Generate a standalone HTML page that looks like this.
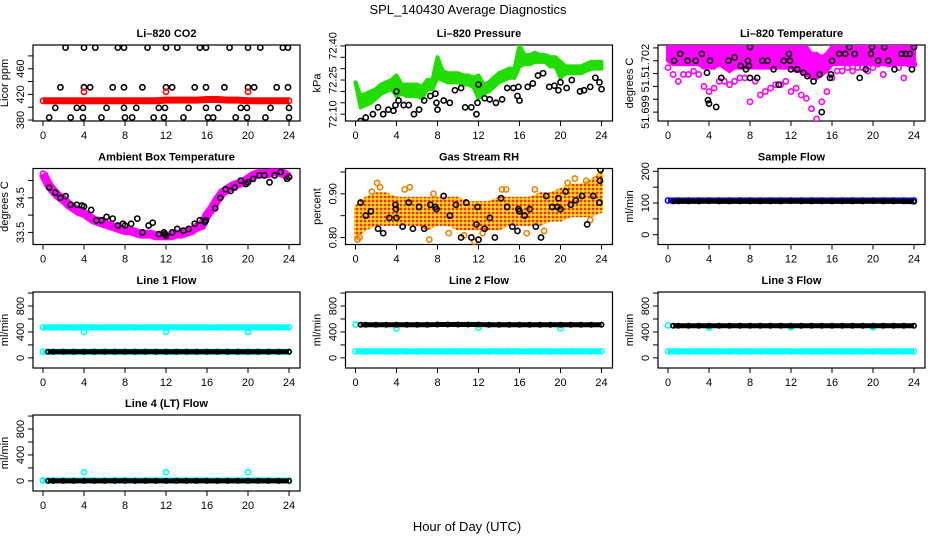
<!DOCTYPE html>
<html><head><meta charset="utf-8"><style>
html,body{margin:0;padding:0;background:#fff;}
svg{display:block;font-family:"Liberation Sans",sans-serif;}
</style></head><body>
<svg id="c" width="936" height="540" viewBox="0 0 936 540">
<defs>
<pattern id="rhpat" patternUnits="userSpaceOnUse" width="4" height="4">
<rect width="4" height="4" fill="#ffb000"/><rect x="0" y="0" width="2" height="2" fill="#e83000"/><rect x="2" y="2" width="2" height="2" fill="#ffd84a"/>
</pattern>
</defs>
<text x="468" y="14" text-anchor="middle" font-size="13">SPL_140430  Average Diagnostics</text>
<text x="467" y="531" text-anchor="middle" font-size="13">Hour of Day (UTC)</text>
</svg>
<script>
// ---- shared hour categories ----
const H=[0,1,2,3,4,5,6,7,8,9,10,11,12,13,14,15,16,17,18,19,20,21,22,23,24];
const HB=[0.5,1,2,3,4,5,6,7,8,9,10,11,12,13,14,15,16,17,18,19,20,21,22,23,24];
const HH=[0,0.5,1,1.5,2,2.5,3,3.5,4,4.5,5,5.5,6,6.5,7,7.5,8,8.5,9,9.5,10,10.5,11,11.5,12,12.5,13,13.5,14,14.5,15,15.5,16,16.5,17,17.5,18,18.5,19,19.5,20,20.5,21,21.5,22,22.5,23,23.5,24];
const xTicks=[0,4,8,12,16,20,24];

// ---- CO2 ----
const co2Red=[410,410,410,410,410,410,410,410,410,410,410,410,411,411,411,411,412,412,411,411,410,410,410,410,410];
const co2RedOutX=[4,12,20];
const co2RedOutY=[424,424,424];
const co2BlkX=[2.2,4.0,5.1,7.3,7.9,10.2,12.0,13.1,15.3,15.9,18.2,20.0,21.2,23.4,23.9,
1.7,4.0,4.6,6.8,7.9,9.7,12.0,12.6,14.8,15.9,17.7,20.0,20.6,22.8,23.9,
1.2,3.3,3.9,6.2,7.9,9.1,11.3,11.9,14.2,15.9,17.1,19.3,19.9,22.2,24.0,
0.6,2.7,3.9,5.7,8.0,8.7,10.8,11.8,13.7,16.1,16.6,18.8,19.9,21.7,24.0];
const co2BlkY=[493,493,493,493,493,493,493,493,493,493,493,493,493,493,493,
431,431,431,431,431,431,431,431,431,431,431,431,431,431,431,
399,399,399,399,399,399,399,399,399,399,399,399,399,399,399,
384,384,384,384,384,384,384,384,384,384,384,384,384,384,384];

// ---- Pressure ----
const presLo=[72.24,72.13,72.14,72.15,72.17,72.19,72.20,72.21,72.18,72.19,72.18,72.18,72.18,72.17,72.21,72.21,72.26,72.25,72.24,72.24,72.24,72.23,72.23,72.22,72.17,72.19,72.20,72.22,72.24,72.25,72.26,72.26,72.31,72.32,72.32,72.33,72.33,72.33,72.31,72.31,72.26,72.28,72.28,72.28,72.28,72.29,72.30,72.30,72.30];
const presHi=[72.24,72.18,72.19,72.20,72.21,72.23,72.24,72.25,72.27,72.23,72.23,72.23,72.23,72.22,72.25,72.25,72.35,72.29,72.28,72.28,72.28,72.27,72.27,72.26,72.27,72.23,72.24,72.26,72.28,72.29,72.30,72.30,72.40,72.36,72.36,72.37,72.36,72.36,72.35,72.35,72.33,72.31,72.31,72.31,72.31,72.32,72.33,72.33,72.33];
const presBlkX=[0.5,1,1.7,2.2,2.7,3.2,3.7,3.9,4,4.2,4.7,5.2,5.7,6.2,6.7,7.3,7.8,7.9,8,8.6,9.2,9.7,10.3,10.7,11.3,11.8,11.9,12,12.6,13.1,13.7,14.3,14.8,15.4,15.9,15.8,16,16.8,17.3,17.8,18.3,18.9,19.4,19.8,20,20.6,21.1,21.9,22.3,22.9,23.4,23.8,24];
const presBlkY=[72.07,72.085,72.10,72.13,72.10,72.12,72.115,72.14,72.2,72.16,72.14,72.14,72.10,72.12,72.16,72.18,72.19,72.15,72.12,72.16,72.15,72.205,72.215,72.13,72.13,72.10,72.15,72.23,72.17,72.165,72.15,72.165,72.215,72.215,72.22,72.18,72.16,72.22,72.235,72.27,72.28,72.22,72.225,72.205,72.24,72.215,72.25,72.20,72.205,72.22,72.26,72.24,72.21];

// ---- Li-820 Temperature ----
const tmpHi=[51.7028,51.7028,51.7028,51.7028,51.7028,51.7028,51.7028,51.7028,51.7028,51.7028,51.7028,51.7028,51.7028,51.7028,51.7028,51.7028,51.7028,51.7028,51.7028,51.7028,51.7028,51.7028,51.7028,51.7028,51.7028,51.7028,51.7028,51.7028,51.7024,51.7024,51.7022,51.7024,51.7028,51.7028,51.7028,51.7028,51.7028,51.7028,51.7028,51.7028,51.7028,51.7028,51.7028,51.7028,51.7028,51.7028,51.7028,51.7028,51.7028];
const tmpMid=[51.7020,51.7018,51.7018,51.7018,51.7018,51.7018,51.7018,51.7016,51.7016,51.7016,51.7018,51.7016,51.7014,51.7016,51.7016,51.7016,51.7016,51.7016,51.7016,51.7016,51.7016,51.7016,51.7016,51.7016,51.7016,51.7014,51.7014,51.7012,51.7010,51.7010,51.7012,51.7014,51.7018,51.7018,51.7018,51.7018,51.7018,51.7018,51.7018,51.7018,51.7018,51.7018,51.7018,51.7018,51.7018,51.7018,51.7018,51.7018,51.7018];
const tmpLo=[51.7016,51.7012,51.7008,51.7012,51.7012,51.7014,51.7012,51.7005,51.7002,51.7004,51.7008,51.7008,51.7006,51.7008,51.7010,51.7010,51.6996,51.7008,51.7000,51.7002,51.7004,51.7006,51.7006,51.7008,51.7002,51.7004,51.7000,51.6998,51.6992,51.6986,51.6996,51.7002,51.7010,51.7014,51.7014,51.7016,51.7014,51.7016,51.7016,51.7014,51.7016,51.7018,51.7012,51.7018,51.7018,51.7016,51.7010,51.7018,51.7018];
const tmpBlkX=[0.6,1.2,1.9,2.7,3.3,3.8,3.9,4,4.7,4.1,5.2,5.9,6.5,7.1,7.6,7.8,7.9,8,8,8.7,9.2,9.7,10.3,10.8,11.3,11.8,11.9,12,12.6,13.2,13.6,14.2,14.8,15,15.8,15.9,16,16.7,17.3,17.7,18.2,18.7,19.3,19.8,19.9,20.5,21.1,21.5,22.1,22.8,23.2,23.6,23.8,24];
const tmpBlkY=[51.7020,51.7024,51.7020,51.7020,51.7024,51.7013,51.6997,51.6995,51.6993,51.7020,51.7010,51.7020,51.7022,51.7017,51.7015,51.7020,51.7017,51.7028,51.7010,51.7010,51.7020,51.7020,51.7015,51.7006,51.7020,51.7024,51.7020,51.7015,51.7015,51.7013,51.7011,51.7008,51.7012,51.6990,51.7010,51.7012,51.7020,51.7024,51.7024,51.7028,51.7024,51.7010,51.7015,51.7024,51.7028,51.7020,51.7028,51.7020,51.7015,51.7024,51.7024,51.7024,51.7015,51.7028];

// ---- Ambient box temperature ----
const ambMag=[35.2,34.9,34.7,34.55,34.45,34.3,34.2,34.1,34.05,33.95,33.85,33.8,33.75,33.7,33.65,33.6,33.55,33.55,33.5,33.45,33.45,33.45,33.4,33.4,33.4,33.4,33.45,33.45,33.5,33.55,33.65,33.7,34.0,34.2,34.45,34.65,34.75,34.85,34.9,34.95,35.05,35.15,35.2,35.2,35.2,35.25,35.25,35.2,35.1];
const ambBlkX=[0.6,1.2,1.7,2.2,2.7,3.3,3.8,4,4.7,5.2,5.7,6.2,6.8,7.3,7.8,8,8.6,9.2,9.7,10.3,10.7,11.3,11.8,11.9,12,12.6,13.1,13.7,14.2,14.8,15.3,15.8,15.9,16.8,17.3,17.8,18.3,18.7,19.3,19.8,20,20.5,21.1,21.6,22.1,22.6,23.2,23.8,24];
const ambBlkY=[34.8,34.65,34.5,34.55,34.3,34.3,34.28,34.25,34.15,33.85,33.85,33.95,33.9,33.7,33.75,33.7,33.75,33.9,33.5,33.7,33.78,33.45,33.5,33.45,33.4,33.5,33.6,33.55,33.6,33.75,33.85,33.8,33.85,34.2,34.5,34.75,34.7,34.8,35.0,34.9,34.95,35.05,35.15,35.15,34.95,35.15,35.25,35.05,35.1];

// ---- Gas stream RH ----
const rhLo=[0.80,0.82,0.83,0.83,0.83,0.83,0.83,0.82,0.83,0.83,0.82,0.82,0.82,0.82,0.82,0.83,0.83,0.83,0.83,0.84,0.84,0.85,0.85,0.85,0.86];
const rhHi=[0.87,0.89,0.90,0.90,0.89,0.89,0.89,0.89,0.89,0.89,0.89,0.88,0.88,0.88,0.89,0.89,0.89,0.89,0.90,0.90,0.91,0.92,0.92,0.93,0.95];
const rhOutX=[0.2,0.4,1.6,2.1,2.4,4.8,5.3,7.2,7.6,9.1,10.6,11.6,12.4,14.3,14.7,16.7,17.5,18.4,20.7,21.4,22.5,22.9,23.7];
const rhOutY=[0.795,0.80,0.905,0.925,0.915,0.91,0.915,0.795,0.90,0.81,0.805,0.79,0.81,0.91,0.91,0.81,0.91,0.815,0.925,0.935,0.93,0.84,0.965];
const rhBlkX=[0.5,1,1.5,2.2,2.7,3.3,3.9,3.95,4,4.6,5.2,5.6,6.2,6.7,7.3,7.8,7.9,8.6,9.2,9.8,10.3,10.8,11.3,11.8,11.9,12,12.6,13.1,13.6,14.2,14.8,15.3,15.8,15.9,16,16.5,17,17.6,18.1,18.6,19.2,19.7,19.8,20,20.5,21,21.5,22.1,22.6,23.2,23.8,23.85,23.9];
const rhBlkY=[0.88,0.85,0.86,0.82,0.81,0.845,0.875,0.865,0.845,0.825,0.88,0.82,0.87,0.82,0.875,0.87,0.865,0.895,0.85,0.875,0.80,0.88,0.80,0.83,0.87,0.795,0.82,0.845,0.80,0.89,0.87,0.825,0.815,0.865,0.86,0.85,0.865,0.825,0.80,0.895,0.87,0.87,0.89,0.865,0.905,0.875,0.885,0.895,0.83,0.895,0.88,0.93,0.955];

// ---- Sample flow ----
const sfBlue=[108,108,108,108,108,108,108,108,108,108,108,108,108,108,108,108,108,108,108,108,108,108,108,108,108];
const sfBlack=[105,105,105,105,106,105,105,105,105,105,105,105,106,105,105,105,105,105,105,105,106,105,105,105,104];

// ---- Line flows ----
const l1CyanHi=[470,470,470,470,470,470,470,470,470,470,470,470,470,470,470,470,470,470,470,470,470,470,470,470,470];
const l1CyanLo=[95,95,95,95,95,95,95,95,95,95,95,95,95,95,95,95,95,95,95,95,95,95,95,95,95];
const l1Black=[95,95,95,95,95,95,95,95,95,95,95,95,95,95,95,95,95,95,95,95,95,95,95,95,95];
const l1DipX=[4,12,20];
const l1DipY=[400,400,400];
const l2Black=[510,510,510,510,510,510,510,510,515,515,515,515,515,510,510,510,510,510,510,510,510,510,510,510,510];
const l2Cyan=[100,100,100,100,100,100,100,100,100,100,100,100,100,100,100,100,100,100,100,100,100,100,100,100,100];
const l2OutX=[0,4,12,20];
const l2OutY=[515,455,465,455];
const l3Black=[495,495,495,495,495,495,495,495,495,495,495,495,495,495,495,495,495,495,495,495,495,495,495,495,495];
const l3Cyan=[100,100,100,100,100,100,100,100,100,100,100,100,100,100,100,100,100,100,100,100,100,100,100,100,100];
const l3OutX=[0,4,12,20];
const l3OutY=[500,465,470,470];
const l4Cyan=[5,5,5,5,5,5,5,5,5,5,5,5,5,5,5,5,5,5,5,5,5,5,5,5,5];
const l4Black=[0,0,0,0,0,0,0,0,0,0,0,0,0,0,0,0,0,0,0,0,0,0,0,0,0];
const l4OutX=[4,12,20];
const l4OutY=[135,135,135];

const NS='http://www.w3.org/2000/svg';
const svg=document.getElementById('c');
function mk(tag,attrs,parent){const e=document.createElementNS(NS,tag);for(const k in attrs)e.setAttribute(k,attrs[k]);(parent||svg).appendChild(e);return e;}

function panel(o){
  const L=o.left,T=o.top,W=267,Hh=76;
  const g=mk('g',{});
  
  
  const xs=h=>L+10+h*246/24;
  const ys=v=>T+Hh-(v-o.ylo)/(o.yhi-o.ylo)*Hh;
  const box=mk('rect',{x:L,y:T,width:W,height:Hh,fill:'none',stroke:'#000','stroke-width':1.2},g);
  
  
  const t=mk('text',{x:L+W/2,y:T-8,'text-anchor':'middle','font-size':11,'font-weight':'bold'},g);
  t.textContent=o.title;
  
  
  const xa=mk('g',{},g);
  
  
  mk('line',{x1:xs(0),x2:xs(24),y1:T+Hh,y2:T+Hh,stroke:'#000'},xa);
  xTicks.forEach(h=>{mk('line',{x1:xs(h),x2:xs(h),y1:T+Hh,y2:T+Hh+5,stroke:'#000'},xa);
    const tl=mk('text',{x:xs(h),y:T+Hh+18,'text-anchor':'middle','font-size':11},xa);tl.textContent=h;
    
    });
  const ya=mk('g',{},g);
  
  
  const yt=o.yticks;
  mk('line',{x1:L,x2:L,y1:ys(yt[0]),y2:ys(yt[yt.length-1]),stroke:'#000'},ya);
  yt.forEach(v=>mk('line',{x1:L-5,x2:L,y1:ys(v),y2:ys(v),stroke:'#000'},ya));
  o.ylabs.forEach((s,i)=>{const y=ys(o.ylabv[i]);const tl=mk('text',{x:L-9,y:y,'text-anchor':'middle','font-size':11,transform:`rotate(-90 ${L-9} ${y})`},ya);tl.textContent=s;
    
    });
  const yl=mk('text',{x:L-25,y:T+Hh/2,'text-anchor':'middle','font-size':11,transform:`rotate(-90 ${L-25} ${T+Hh/2})`},g);
  yl.textContent=o.ylab;
  
  
  const clip='cp'+o.name;
  const cp=mk('clipPath',{id:clip},g);mk('rect',{x:L,y:T,width:W,height:Hh},cp);
  const d=mk('g',{'clip-path':`url(#${clip})`},g);
  o.series.forEach(s=>{
    const sg=mk('g',{},d);
    
    
    if(s.lo){
      for(let i=0;i<s.x.length-1;i++){
        const p=`M${xs(s.x[i])},${ys(s.hi[i])} L${xs(s.x[i+1])},${ys(s.hi[i+1])} L${xs(s.x[i+1])},${ys(s.lo[i+1])} L${xs(s.x[i])},${ys(s.lo[i])}Z`;
        const a=mk('path',{d:p,fill:s.color,stroke:s.color,'stroke-width':s.w,'stroke-linejoin':'round'},sg);
        
        
      }
    } else {
      if(s.line){
        const p=s.x.map((h,i)=>(i?'L':'M')+xs(h)+','+ys(s.y[i])).join(' ');
        const ln=mk('path',{d:p,fill:'none',stroke:s.color,'stroke-width':s.line},sg);
        
        
      }
      for(let i=0;i<s.x.length;i++){
        const c=mk('circle',{cx:xs(s.x[i]),cy:ys(s.y[i]),r:s.r||2.6,fill:s.fill||'none',stroke:s.color,'stroke-width':s.sw||1.6},sg);
        
        
      }
    }
  });
}
const C=[33,345.5,658], R=[45,168.5,292,415];
const flowT=[0,200,400,600,800,1000];
panel({name:'co2-panel',title:'Li\u2013820 CO2',left:C[0],top:R[0],ylo:378.5,yhi:497,yticks:[380,400,420,440,460,480],ylabs:['380','420','460'],ylabv:[380,420,460],ylab:'Licor ppm',
 series:[{name:'co2-black',x:co2BlkX,y:co2BlkY,color:'#000'},
  {name:'co2-red',x:H,y:co2Red,color:'#f00',line:7},
  {name:'co2-red-outliers',x:co2RedOutX,y:co2RedOutY,color:'#f00'}]});
panel({name:'pressure-panel',title:'Li\u2013820 Pressure',left:C[1],top:R[0],ylo:72.07,yhi:72.404,yticks:[72.10,72.15,72.20,72.25,72.30,72.35,72.40],ylabs:['72.10','72.25','72.40'],ylabv:[72.10,72.25,72.40],ylab:'kPa',
 series:[{name:'pressure-green',x:HH,lo:presLo,hi:presHi,color:'#22dd00',w:4},
  {name:'pressure-black',x:presBlkX,y:presBlkY,color:'#000'}]});
panel({name:'li820-temp-panel',title:'Li\u2013820 Temperature',left:C[2],top:R[0],ylo:51.69848,yhi:51.70292,yticks:[51.699,51.69975,51.7005,51.70125,51.702,51.70275],ylabs:['51.699','51.','51.702'],ylabv:[51.699,51.7006,51.702],ylab:'degrees C',
 series:[{name:'temp-magenta-band',x:HH,lo:tmpMid,hi:tmpHi,color:'#ff00ff',w:4},
  {name:'temp-magenta-scatter',x:HH,y:tmpLo,color:'#ff00ff'},
  {name:'temp-black',x:tmpBlkX,y:tmpBlkY,color:'#000'}]});
panel({name:'ambient-temp-panel',title:'Ambient Box Temperature',left:C[0],top:R[1],ylo:33.15,yhi:35.35,yticks:[33.5,34.0,34.5,35.0],ylabs:['33.5','34.5'],ylabv:[33.5,34.5],ylab:'degrees C',
 series:[{name:'ambient-magenta',x:HH,y:ambMag,color:'#ff00ff',line:9},
  {name:'ambient-black',x:ambBlkX,y:ambBlkY,color:'#000'}]});
panel({name:'rh-panel',title:'Gas Stream RH',left:C[1],top:R[1],ylo:0.784,yhi:0.958,yticks:[0.80,0.85,0.90,0.95],ylabs:['0.80','0.90'],ylabv:[0.80,0.90],ylab:'percent',
 series:[{name:'rh-orange-band',x:H,lo:rhLo,hi:rhHi,color:'url(#rhpat)',w:3},
  {name:'rh-orange-outliers',x:rhOutX,y:rhOutY,color:'#f08000'},
  {name:'rh-black',x:rhBlkX,y:rhBlkY,color:'#000'}]});
panel({name:'sample-flow-panel',title:'Sample Flow',left:C[2],top:R[1],ylo:-31,yhi:209,yticks:[0,50,100,150,200],ylabs:['0','100','200'],ylabv:[0,100,200],ylab:'ml/min',
 series:[{name:'sample-flow-blue',x:H,y:sfBlue,color:'#0000ff',line:6},
  {name:'sample-flow-black',x:HB,y:sfBlack,color:'#000',r:2.2,line:5}]});
panel({name:'line1-flow-panel',title:'Line 1 Flow',left:C[0],top:R[2],ylo:-156,yhi:1016,yticks:flowT,ylabs:['0','400','800'],ylabv:[0,400,800],ylab:'ml/min',
 series:[{name:'line1-cyan-high',x:H,y:l1CyanHi,color:'#00ffff',line:6},
  {name:'line1-cyan-dips',x:l1DipX,y:l1DipY,color:'#00ffff'},
  {name:'line1-cyan-low',x:H,y:l1CyanLo,color:'#00ffff',line:6},
  {name:'line1-black',x:HB,y:l1Black,color:'#000',r:2.2,line:5}]});
panel({name:'line2-flow-panel',title:'Line 2 Flow',left:C[1],top:R[2],ylo:-156,yhi:1016,yticks:flowT,ylabs:['0','400','800'],ylabv:[0,400,800],ylab:'ml/min',
 series:[{name:'line2-cyan',x:H,y:l2Cyan,color:'#00ffff',line:6},
  {name:'line2-cyan-outliers',x:l2OutX,y:l2OutY,color:'#00ffff'},
  {name:'line2-black',x:HB,y:l2Black,color:'#000',r:2.2,line:5}]});
panel({name:'line3-flow-panel',title:'Line 3 Flow',left:C[2],top:R[2],ylo:-156,yhi:1016,yticks:flowT,ylabs:['0','400','800'],ylabv:[0,400,800],ylab:'ml/min',
 series:[{name:'line3-cyan',x:H,y:l3Cyan,color:'#00ffff',line:6},
  {name:'line3-cyan-outliers',x:l3OutX,y:l3OutY,color:'#00ffff'},
  {name:'line3-black',x:HB,y:l3Black,color:'#000',r:2.2,line:5}]});
panel({name:'line4-flow-panel',title:'Line 4 (LT) Flow',left:C[0],top:R[3],ylo:-156,yhi:1016,yticks:flowT,ylabs:['0','400','800'],ylabv:[0,400,800],ylab:'ml/min',
 series:[{name:'line4-cyan',x:H,y:l4Cyan,color:'#00ffff',line:6},
  {name:'line4-cyan-outliers',x:l4OutX,y:l4OutY,color:'#00ffff'},
  {name:'line4-black',x:HB,y:l4Black,color:'#000',r:2.2,line:5}]});
</script>
</body></html>
